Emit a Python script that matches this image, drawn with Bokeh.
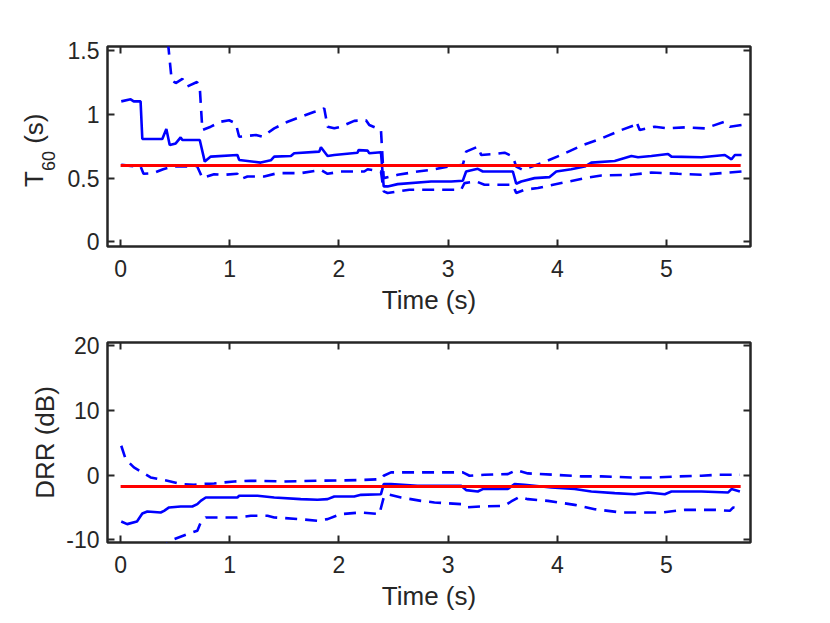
from bokeh.plotting import figure
from bokeh.models import Range1d, LinearAxis, FixedTicker, Div
from bokeh.layouts import column, row
from bokeh.embed import file_html
from bokeh.resources import INLINE

# ---------------- data ----------------
# T60 estimate (s)
t60_mean_t = [0.006, 0.092, 0.12, 0.183, 0.199, 0.382, 0.419, 0.45, 0.505, 0.55, 0.566, 0.725,
              0.771, 0.826, 1.07, 1.086, 1.284, 1.376, 1.407, 1.56, 1.59, 1.82, 1.835, 1.896,
              1.957, 2.17, 2.18, 2.263, 2.278, 2.385, 2.41, 2.446, 2.538, 2.844, 3.028, 3.135,
              3.165, 3.272, 3.318, 3.593, 3.624, 3.67, 3.792, 3.93, 3.991, 4.128, 4.251, 4.312,
              4.526, 4.679, 4.74, 4.862, 5.015, 5.046, 5.321, 5.535, 5.596, 5.627, 5.688]
t60_mean = [1.103, 1.119, 1.103, 1.103, 0.807, 0.807, 0.886, 0.76, 0.773, 0.82, 0.80, 0.80,
            0.63, 0.669, 0.682, 0.643, 0.622, 0.64, 0.669, 0.674, 0.695, 0.708, 0.742, 0.674,
            0.682, 0.70, 0.72, 0.716, 0.695, 0.703, 0.435, 0.435, 0.453, 0.474, 0.474, 0.48,
            0.552, 0.573, 0.552, 0.552, 0.456, 0.474, 0.50, 0.508, 0.552, 0.57, 0.591, 0.622,
            0.635, 0.674, 0.664, 0.674, 0.69, 0.669, 0.664, 0.682, 0.648, 0.682, 0.682]

t60_upper_t = [0.006, 0.43, 0.468, 0.505, 0.566, 0.61, 0.70, 0.725, 0.749, 0.826, 0.917, 0.994,
               1.055, 1.086, 1.24, 1.30, 1.407, 1.53, 1.65, 1.77, 1.85, 1.865, 1.896, 1.957,
               2.018, 2.14, 2.248, 2.278, 2.385, 2.41, 2.538, 2.722, 2.844, 2.997, 3.135, 3.165,
               3.272, 3.303, 3.425, 3.517, 3.593, 3.624, 3.685, 3.853, 4.037, 4.235, 4.404,
               4.587, 4.709, 4.725, 4.755, 4.893, 5.015, 5.168, 5.352, 5.535, 5.581, 5.688]
t60_upper = [2.60, 1.60, 1.268, 1.247, 1.28, 1.22, 1.255, 1.216, 0.878, 0.904, 0.943, 0.955,
             0.93, 0.825, 0.839, 0.825, 0.891, 0.943, 0.981, 1.02, 1.038, 1.05, 0.904, 0.891,
             0.904, 0.95, 0.955, 0.917, 0.878, 0.50, 0.526, 0.552, 0.565, 0.591, 0.604, 0.708,
             0.747, 0.682, 0.69, 0.70, 0.669, 0.591, 0.565, 0.617, 0.682, 0.76, 0.812,
             0.878, 0.917, 0.943, 0.878, 0.904, 0.891, 0.899, 0.891, 0.943, 0.904, 0.917]

t60_lower_t = [0.006, 0.092, 0.183, 0.21, 0.30, 0.39, 0.48, 0.57, 0.70, 0.73, 0.749, 0.856,
               0.947, 1.07, 1.10, 1.162, 1.315, 1.437, 1.65, 1.835, 1.896, 2.018, 2.232, 2.263,
               2.385, 2.41, 2.446, 2.645, 3.119, 3.15, 3.257, 3.333, 3.456, 3.593, 3.624, 3.70,
               3.823, 4.037, 4.251, 4.404, 4.679, 4.862, 5.107, 5.321, 5.688]
t60_lower = [0.604, 0.596, 0.591, 0.534, 0.539, 0.57, 0.591, 0.591, 0.596, 0.539, 0.50, 0.531,
             0.526, 0.534, 0.492, 0.513, 0.513, 0.539, 0.539, 0.565, 0.534, 0.552, 0.552, 0.57,
             0.552, 0.396, 0.383, 0.409, 0.409, 0.461, 0.474, 0.448, 0.448, 0.448, 0.383, 0.409,
             0.422, 0.461, 0.50, 0.521, 0.526, 0.544, 0.534, 0.526, 0.552]

t60_true_t = [0.0, 5.68]
t60_true = [0.60, 0.60]

# DRR estimate (dB)
drr_mean_t = [0.006, 0.06, 0.15, 0.199, 0.245, 0.367, 0.398, 0.444, 0.55, 0.657, 0.703, 0.734,
              0.78, 1.07, 1.086, 1.254, 1.407, 1.65, 1.804, 1.896, 1.957, 2.14, 2.202, 2.385,
              2.41, 2.477, 2.72, 2.844, 3.119, 3.165, 3.272, 3.318, 3.547, 3.609, 3.70, 3.945,
              4.159, 4.312, 4.526, 4.709, 4.832, 4.985, 5.046, 5.321, 5.566, 5.596, 5.673]
drr_mean = [-7.17, -7.58, -7.17, -5.93, -5.62, -5.78, -5.52, -5.0, -4.85, -4.85, -4.49, -3.98,
            -3.46, -3.46, -3.2, -3.2, -3.46, -3.72, -3.82, -3.72, -3.3, -3.3, -3.05, -2.95,
            -1.39, -1.39, -1.65, -1.65, -1.65, -2.32, -2.53, -2.16, -2.16, -1.39, -1.49, -1.91,
            -2.16, -2.53, -2.79, -2.95, -2.68, -2.95, -2.53, -2.53, -2.68, -2.16, -2.53]

drr_upper_t = [0.006, 0.046, 0.122, 0.275, 0.428, 0.55, 0.673, 0.734, 0.856, 1.04, 1.193, 1.498,
               1.835, 2.202, 2.385, 2.41, 2.477, 2.844, 2.997, 3.135, 3.196, 3.333, 3.547, 3.624,
               3.731, 3.976, 4.22, 4.404, 4.679, 4.893, 5.107, 5.321, 5.474, 5.673]
drr_upper = [4.54, 2.48, 1.19, -0.36, -0.87, -1.39, -1.49, -1.39, -1.29, -0.98, -0.87, -0.98,
             -0.87, -0.77, -0.62, -0.10, 0.42, 0.42, 0.42, 0.42, -0.10, 0.05, 0.15, 0.77,
             0.26, 0.05, -0.20, -0.20, -0.36, -0.36, -0.20, -0.10, 0.05, 0.05]

drr_lower_t = [0.006, 0.40, 0.444, 0.49, 0.611, 0.703, 0.734, 0.78, 1.07, 1.193, 1.346, 1.407,
               1.65, 1.804, 1.896, 2.018, 2.202, 2.37, 2.41, 2.446, 2.569, 2.752, 2.875, 3.119,
               3.165, 3.303, 3.517, 3.578, 3.654, 3.731, 3.914, 4.159, 4.343, 4.587, 4.74,
               4.954, 5.168, 5.443, 5.581, 5.612, 5.673]
drr_lower = [-14.0, -11.0, -10.27, -9.9, -9.13, -8.6, -7.32, -6.55, -6.55, -6.29, -6.29, -6.55,
             -6.81, -7.07, -6.81, -6.03, -5.78, -6.03, -3.46, -2.95, -3.46, -3.98, -4.23, -4.49,
             -5.0, -4.85, -4.75, -4.08, -3.36, -3.72, -3.98, -4.6, -5.27, -5.78, -5.78,
             -5.78, -5.37, -5.37, -5.52, -5.0, -5.27]

drr_true_t = [0.0, 5.68]
drr_true = [-1.75, -1.75]

x_ticks = [0, 1, 2, 3, 4, 5]
t60_ticks = [0, 0.5, 1, 1.5]
t60_tick_labels = ["0", "0.5", "1", "1.5"]
drr_ticks = [-10, 0, 10, 20]
drr_tick_labels = ["-10", "0", "10", "20"]

# y label of the top axes: "T" with subscript "60", then "(s)"
t60_label_main, t60_label_sub, t60_label_unit = "T", "60", "(s)"

# ---------------- style ----------------
FONT = "Liberation Sans"
INK = "#262626"
BLUE = "#0000FF"
RED = "#FF0000"
TICK_PX = "23px"
LABEL_PX = "26px"
DASH = "12 8"
LW = 2.6
LABEL_W = 60          # width of the strip that holds the T60 label
TOP_H = 317


def make_fig(yr, yticks, ylabels, width, height, left, top, bottom):
    p = figure(x_range=Range1d(-0.12, 5.77), y_range=Range1d(*yr),
               width=width, height=height, output_backend="svg", toolbar_location=None,
               min_border_left=left, min_border_right=72, min_border_top=top,
               min_border_bottom=bottom, background_fill_color="white",
               border_fill_color="white")
    p.grid.visible = False
    p.outline_line_color = INK
    p.outline_line_width = 2.5
    xa, ya = p.xaxis[0], p.yaxis[0]
    xa.ticker = FixedTicker(ticks=x_ticks, minor_ticks=[])
    ya.ticker = FixedTicker(ticks=yticks, minor_ticks=[])
    ya.major_label_overrides = {t: l for t, l in zip(yticks, ylabels)}
    for ax in (xa, ya):
        ax.axis_line_color = None
        ax.major_tick_in = 7
        ax.major_tick_out = 0
        ax.major_tick_line_color = INK
        ax.major_tick_line_width = 2
        ax.minor_tick_line_color = None
        ax.major_label_text_font = FONT
        ax.major_label_text_font_size = TICK_PX
        ax.major_label_text_color = INK
        ax.axis_label_text_font = FONT
        ax.axis_label_text_font_size = LABEL_PX
        ax.axis_label_text_font_style = "normal"
        ax.axis_label_text_color = INK
    xa.major_label_standoff = 13
    ya.major_label_standoff = 8
    xa.axis_label = "Time (s)"
    xa.axis_label_standoff = 5
    # box ticks on top and right
    for side, tks in (("above", x_ticks), ("right", yticks)):
        ax = LinearAxis(ticker=FixedTicker(ticks=tks, minor_ticks=[]),
                        major_label_overrides={t: "" for t in tks},
                        major_label_text_font_size="0px",
                        axis_line_color=None, major_tick_in=7, major_tick_out=0,
                        major_tick_line_color=INK, major_tick_line_width=2,
                        minor_tick_line_color=None, major_label_standoff=0)
        p.add_layout(ax, side)
    return p, ya


# ---------------- top: T60 ----------------
p1, y1 = make_fig((-0.037, 1.534), t60_ticks, t60_tick_labels, 822 - LABEL_W, TOP_H,
                  107 - LABEL_W, 46, 70)
p1.line(t60_upper_t, t60_upper, line_color=BLUE, line_width=LW, line_dash=DASH)
p1.line(t60_lower_t, t60_lower, line_color=BLUE, line_width=LW, line_dash=DASH)
p1.line(t60_mean_t, t60_mean, line_color=BLUE, line_width=LW)
p1.line(t60_true_t, t60_true, line_color=RED, line_width=3)

# rotated label with a real subscript, in an HTML strip left of the top axes
label_html = (
    f'<div style="position:relative;width:{LABEL_W}px;height:{TOP_H}px;overflow:visible;">'
    f'<div style="position:absolute;left:21px;top:187px;transform:rotate(-90deg);'
    f'transform-origin:left top;white-space:nowrap;font-family:\'{FONT}\';'
    f'font-size:{LABEL_PX};line-height:26px;color:{INK};">'
    f'{t60_label_main}<span style="font-size:18px;position:relative;top:12px;">'
    f'{t60_label_sub}</span> {t60_label_unit}</div></div>'
)
lab = Div(text=label_html, width=LABEL_W, height=TOP_H, margin=0,
          styles={"overflow": "visible"})

# ---------------- bottom: DRR ----------------
p2, y2 = make_fig((-10.42, 20.5), drr_ticks, drr_tick_labels, 822, 298, 107, 25, 73)
p2.line(drr_upper_t, drr_upper, line_color=BLUE, line_width=LW, line_dash=DASH)
p2.line(drr_lower_t, drr_lower, line_color=BLUE, line_width=LW, line_dash=DASH)
p2.line(drr_mean_t, drr_mean, line_color=BLUE, line_width=LW)
p2.line(drr_true_t, drr_true, line_color=RED, line_width=3)
y2.axis_label = "DRR (dB)"
y2.axis_label_standoff = 3

layout = column(row(lab, p1, spacing=0), p2, spacing=0)
open("out.html", "w").write(file_html(layout, INLINE))
